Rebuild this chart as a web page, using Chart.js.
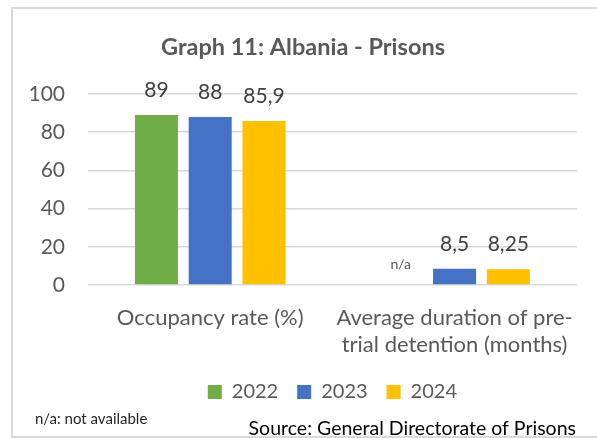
<!DOCTYPE html>
<html lang="en">
<head>
    <meta charset="UTF-8">
    <title>Graph 11: Albania - Prisons</title>
    <script src="https://cdn.jsdelivr.net/npm/chart.js"></script>
    <style>
        body {
            margin: 0;
            background: #ffffff;
        }
        #wrap {
            width: 597px;
            height: 438px;
        }
    </style>
</head>
<body>
    <div id="wrap">
        <canvas id="prisonChart" width="597" height="438"></canvas>
    </div>

    <script>
        const categories = [
            'Occupancy rate (%)',
            ['Average duration of pre-', 'trial detention (months)']
        ];
        const years = ['2022', '2023', '2024'];
        const values2022 = [89, null];
        const values2023 = [88, 8.5];
        const values2024 = [85.9, 8.25];
        const yTicks = [0, 20, 40, 60, 80, 100];
        const colors = ['#70AD47', '#4472C4', '#FFC000'];

        const font = 'Lato, "Noto Sans", sans-serif';
        const grey = '#595959';

        // 85.9 -> "85,9", missing -> "n/a"
        function fmt(v) {
            if (v === null) return 'n/a';
            return String(v).replace('.', ',');
        }

        const extras = {
            id: 'extras',
            beforeDraw(chart) {
                const ctx = chart.ctx;
                ctx.save();
                ctx.strokeStyle = '#d9d9d9';
                ctx.lineWidth = 2;
                ctx.strokeRect(12, 8, 600, 429);
                ctx.restore();
            },
            afterDatasetsDraw(chart) {
                const ctx = chart.ctx;
                const yScale = chart.scales.y;
                ctx.save();
                ctx.textAlign = 'center';
                ctx.textBaseline = 'middle';
                chart.data.datasets.forEach((ds, i) => {
                    const meta = chart.getDatasetMeta(i);
                    meta.data.forEach((bar, j) => {
                        const v = ds.data[j];
                        if (v === null) {
                            ctx.font = '14px ' + font;
                            ctx.fillStyle = grey;
                            ctx.fillText('n/a', bar.x, yScale.getPixelForValue(0) - 21);
                        } else {
                            ctx.font = '21px ' + font;
                            ctx.fillStyle = '#404040';
                            ctx.fillText(fmt(v), bar.x, bar.y - 25);
                        }
                    });
                });

                // title
                ctx.font = 'bold 23.5px ' + font;
                ctx.fillStyle = grey;
                ctx.fillText('Graph 11: Albania - Prisons', 303, 47);

                // notes
                ctx.textAlign = 'left';
                ctx.font = '15px ' + font;
                ctx.fillStyle = '#262626';
                ctx.fillText('n/a: not available', 35, 419);
                ctx.textAlign = 'right';
                ctx.font = '19.5px ' + font;
                ctx.fillStyle = '#000000';
                ctx.fillText('Source: General Directorate of Prisons', 576, 429);
                ctx.restore();
            }
        };

        new Chart(document.getElementById('prisonChart'), {
            type: 'bar',
            data: {
                labels: categories,
                datasets: years.map((y, i) => ({
                    label: y,
                    data: [values2022, values2023, values2024][i],
                    backgroundColor: colors[i],
                    categoryPercentage: 0.66,
                    barPercentage: 0.8
                }))
            },
            options: {
                responsive: false,
                animation: false,
                layout: {
                    padding: { top: 94, right: 19, left: 12, bottom: 26 }
                },
                scales: {
                    y: {
                        min: 0,
                        max: 100,
                        afterFit: s => { s.width = 76; },
                        afterBuildTicks: s => { s.ticks = yTicks.map(v => ({ value: v })); },
                        grid: { color: '#d9d9d9', lineWidth: 1.5, drawTicks: false },
                        border: { display: false },
                        ticks: {
                            padding: 23,
                            color: grey,
                            font: { family: font, size: 21 }
                        }
                    },
                    x: {
                        afterFit: s => { s.height = 78; },
                        grid: { display: false, drawTicks: false },
                        border: { display: false },
                        ticks: {
                            padding: 19.5,
                            color: grey,
                            maxRotation: 0,
                            font: { family: font, size: 22, lineHeight: 1.227 }
                        }
                    }
                },
                plugins: {
                    legend: {
                        position: 'bottom',
                        fullSize: false,
                        labels: {
                            color: grey,
                            boxWidth: 14,
                            boxHeight: 14,
                            padding: 19,
                            font: { family: font, size: 20 }
                        }
                    },
                    tooltip: { enabled: false }
                }
            },
            plugins: [extras]
        });
    </script>
</body>
</html>
